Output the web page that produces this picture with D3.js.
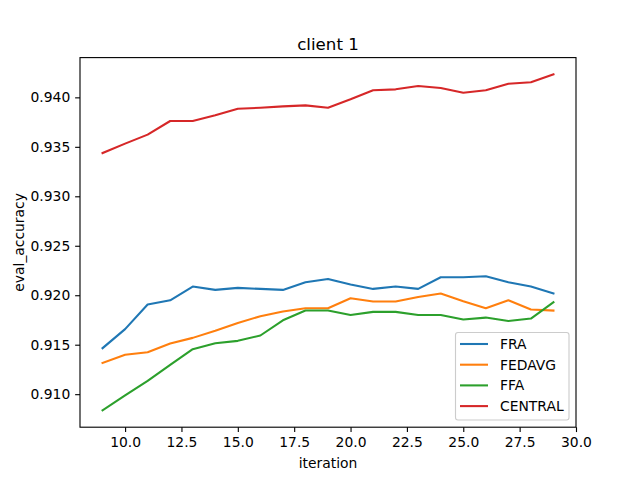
<!DOCTYPE html>
<html><head><meta charset="utf-8">
<script src="https://cdn.jsdelivr.net/npm/d3@7"></script>
<style>body{margin:0;background:#fff}svg{display:block;font-family:"DejaVu Sans",sans-serif}</style>
</head><body>
<svg id="c" width="640" height="480"></svg>
<script>
const iterations = [9,10,11,12,13,14,15,16,17,18,19,20,21,22,23,24,25,26,27,28,29];
const FRA = [0.91465,0.91657,0.91906,0.91949,0.92088,0.92054,0.92074,0.92064,0.92054,0.92131,0.92165,0.92108,0.92064,0.92088,0.92064,0.92182,0.92182,0.92192,0.92131,0.92088,0.92017];
const FEDAVG = [0.91316,0.91398,0.91424,0.91512,0.91569,0.91640,0.91720,0.91788,0.91835,0.91869,0.91869,0.91970,0.91936,0.91936,0.91983,0.92017,0.91939,0.91869,0.91949,0.91855,0.91845];
const FFA = [0.90836,0.90987,0.91134,0.91296,0.91455,0.91515,0.91539,0.91593,0.91747,0.91845,0.91845,0.91801,0.91832,0.91832,0.91801,0.91801,0.91754,0.91774,0.91740,0.91764,0.91929];
const CENTRAL = [0.93437,0.93532,0.93623,0.93761,0.93761,0.93818,0.93885,0.93895,0.93909,0.93919,0.93895,0.93980,0.94071,0.94081,0.94114,0.94094,0.94047,0.94071,0.94138,0.94152,0.94232];
const seriesNames = ["FRA","FEDAVG","FFA","CENTRAL"];
const seriesColors = ["#1f77b4","#ff7f0e","#2ca02c","#d62728"];
const xTicks = [10,12.5,15,17.5,20,22.5,25,27.5,30];
const yTicks = [0.910,0.915,0.920,0.925,0.930,0.935,0.940];

const pt = 100/72;
const svg = d3.select("#c");
const L=80,R=576,T=57.6,B=427.2;
const allVals = FRA.concat(FEDAVG,FFA,CENTRAL);
const ymin=d3.min(allVals), ymax=d3.max(allVals), yr=ymax-ymin;
const x = d3.scaleLinear().domain([8,30]).range([L,R]);
const y = d3.scaleLinear().domain([ymin-0.05*yr, ymax+0.05*yr]).range([B,T]);

const data = [FRA,FEDAVG,FFA,CENTRAL];
const line = d3.line().x((d,i)=>x(iterations[i])).y(d=>y(d));
data.forEach((s,k)=>{
  svg.append("path").datum(s).attr("d",line).attr("fill","none")
    .attr("stroke",seriesColors[k]).attr("stroke-width",1.5*pt).attr("stroke-linejoin","round").attr("stroke-linecap","square");
});

const xa = svg.append("g").attr("transform",`translate(0,${B})`)
  .call(d3.axisBottom(x).tickValues(xTicks).tickFormat(d3.format(".1f")).tickSizeOuter(0).tickSize(3.5*pt).tickPadding(3.5*pt));
const ya = svg.append("g").attr("transform",`translate(${L},0)`)
  .call(d3.axisLeft(y).tickValues(yTicks).tickFormat(d3.format(".3f")).tickSizeOuter(0).tickSize(3.5*pt).tickPadding(3.5*pt));
[xa,ya].forEach(a=>{a.select(".domain").remove();a.selectAll("text").attr("font-size",10*pt).attr("fill","#000").attr("font-family","DejaVu Sans");a.selectAll("line").attr("stroke","#000").attr("stroke-width",0.8*pt);});

svg.append("rect").attr("x",L).attr("y",T).attr("width",R-L).attr("height",B-T)
  .attr("fill","none").attr("stroke","#000").attr("stroke-width",0.8*pt);

svg.append("text").attr("x",(L+R)/2).attr("y",50).attr("text-anchor","middle").attr("font-size",12*pt).text("client 1");
svg.append("text").attr("x",(L+R)/2).attr("y",468).attr("text-anchor","middle").attr("font-size",10*pt).text("iteration");
svg.append("text").attr("transform",`translate(24,${(T+B)/2}) rotate(-90)`).attr("text-anchor","middle").attr("font-size",10*pt).text("eval_accuracy");

const lg = svg.append("g");
lg.append("rect").attr("x",455.5).attr("y",332.5).attr("width",113.5).attr("height",87.5).attr("rx",2.5)
  .attr("fill","#fff").attr("fill-opacity",0.8).attr("stroke","#ccc").attr("stroke-width",0.8*pt);
seriesNames.forEach((n,k)=>{
  const yy = 344 + k*20.7;
  lg.append("line").attr("x1",460).attr("x2",488).attr("y1",yy).attr("y2",yy).attr("stroke",seriesColors[k]).attr("stroke-width",1.5*pt);
  lg.append("text").attr("x",500).attr("y",yy+5).attr("font-size",10*pt).text(n);
});
</script>
</body></html>
